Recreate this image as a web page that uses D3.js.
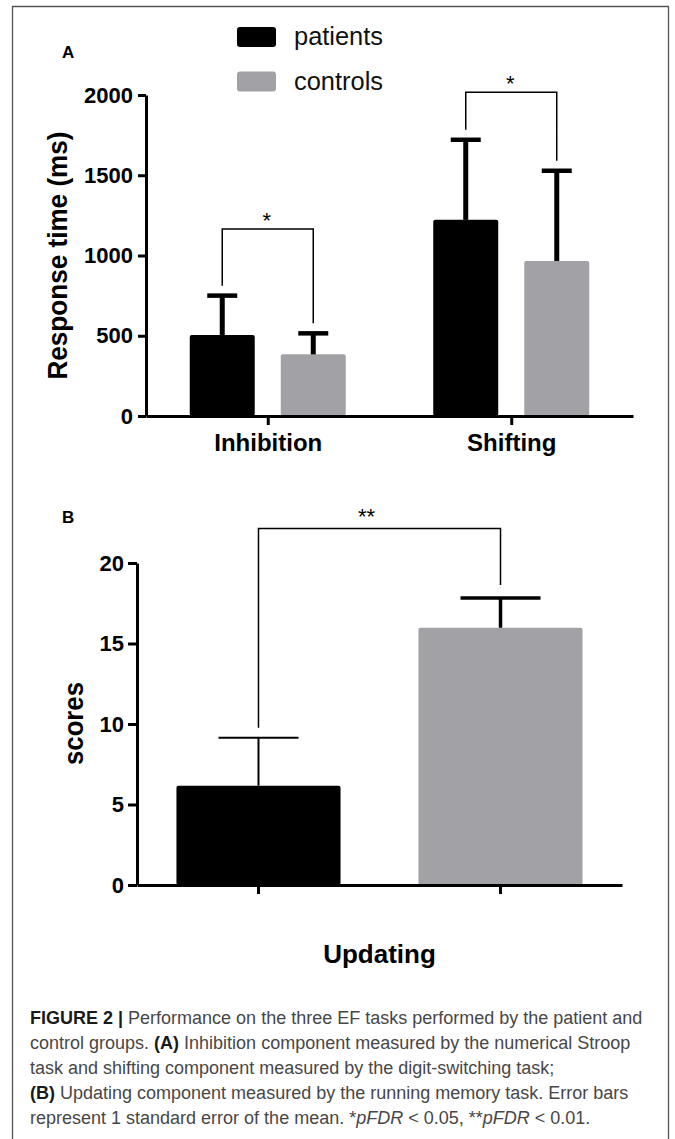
<!DOCTYPE html>
<html>
<head>
<meta charset="utf-8">
<script src="https://cdn.jsdelivr.net/npm/d3@7"></script>
<style>
  body { margin: 0; background: #fff; }
  svg { display: block; font-family: "Liberation Sans", Arial, sans-serif; }
</style>
</head>
<body>
<div id="wrapper"></div>
<script>
// data
const series = ["patients", "controls"]
const tasksA = ["Inhibition", "Shifting"]
const meansA = { patients: [505, 1222], controls: [384, 966] }
const errA = { patients: [245, 499], controls: [131, 562] }
const starsA = ["*", "*"]
const bracketA = [1165, 2017]
const ticksA = [0, 500, 1000, 1500, 2000]

const meansB = [6.17, 15.98]
const errB = [2.98, 1.85]
const starsB = "**"
const bracketB = 22.14
const ticksB = [0, 5, 10, 15, 20]

const colors = { patients: "#000000", controls: "#a2a1a6" }

const caption = [
  [["FIGURE 2 | ", "b"], ["Performance on the three EF tasks performed by the patient and", ""]],
  [["control groups. ", ""], ["(A)", "b"], [" Inhibition component measured by the numerical Stroop", ""]],
  [["task and shifting component measured by the digit-switching task;", ""]],
  [["(B)", "b"], [" Updating component measured by the running memory task. Error bars", ""]],
  [["represent 1 standard error of the mean. *", ""], ["pFDR", "i"], [" < 0.05, **", ""], ["pFDR", "i"], [" < 0.01.", ""]],
]

function drawChart() {
  const width = 675
  const height = 1139

  const svg = d3.select("#wrapper")
    .append("svg")
    .attr("width", width)
    .attr("height", height)

  // frame, open at the bottom
  svg.append("path")
    .attr("d", `M12.5,${height} V6.5 H668.5 V${height}`)
    .attr("fill", "none")
    .attr("stroke", "#555")
    .attr("stroke-width", 1.3)

  // ---------- panel A ----------
  const yA = d3.scaleLinear().domain([0, 2000]).range([416, 95])
  const xA = d3.scalePoint().domain(tasksA).range([146, 633]).padding(0.5)
  const xInner = d3.scaleBand().domain(series).range([-78, 78]).paddingInner(0.286)

  const gA = svg.append("g")

  tasksA.forEach((task, i) => {
    series.forEach(s => {
      const cx = xA(task) + xInner(s) + xInner.bandwidth() / 2
      const v = meansA[s][i]
      const top = v + errA[s][i]
      gA.append("rect")
        .attr("x", xA(task) + xInner(s))
        .attr("y", yA(v))
        .attr("width", xInner.bandwidth())
        .attr("height", yA(0) - yA(v))
        .attr("rx", 2)
        .attr("fill", colors[s])
      gA.append("line")
        .attr("x1", cx).attr("x2", cx)
        .attr("y1", yA(v)).attr("y2", yA(top))
        .attr("stroke", "#000").attr("stroke-width", 5)
      gA.append("line")
        .attr("x1", cx - 15).attr("x2", cx + 15)
        .attr("y1", yA(top)).attr("y2", yA(top))
        .attr("stroke", "#000").attr("stroke-width", 4.5)
    })

    const xl = xA(task) + xInner("patients") + xInner.bandwidth() / 2
    const xr = xA(task) + xInner("controls") + xInner.bandwidth() / 2
    const legL = yA(meansA.patients[i] + errA.patients[i]) - 10
    const legR = yA(meansA.controls[i] + errA.controls[i]) - 10
    gA.append("path")
      .attr("d", `M${xl},${legL} V${yA(bracketA[i])} H${xr} V${legR}`)
      .attr("fill", "none")
      .attr("stroke", "#000")
      .attr("stroke-width", 1.5)
    gA.append("text")
      .attr("x", (xl + xr) / 2 - 1)
      .attr("y", yA(bracketA[i]) - 1.5)
      .attr("text-anchor", "middle")
      .attr("font-size", 22)
      .text(starsA[i])
  })

  const yAxisA = gA.append("g")
    .attr("transform", "translate(146,0)")
    .call(d3.axisLeft(yA).tickValues(ticksA).tickFormat(d3.format("d"))
      .tickSize(8).tickSizeOuter(0).tickPadding(5))
  const xAxisA = gA.append("g")
    .attr("transform", `translate(0,${yA(0)})`)
    .call(d3.axisBottom(xA).tickSize(9).tickSizeOuter(0).tickPadding(9))

  // ---------- panel B ----------
  const yB = d3.scaleLinear().domain([0, 20]).range([885, 563])
  const xB = d3.scaleBand().domain(series).range([137, 622]).paddingInner(0.322).paddingOuter(0.163)

  const gB = svg.append("g")

  series.forEach((s, i) => {
    const cx = xB(s) + xB.bandwidth() / 2
    const top = meansB[i] + errB[i]
    const sw = s === "patients" ? 2 : 3.5
    gB.append("rect")
      .attr("x", xB(s))
      .attr("y", yB(meansB[i]))
      .attr("width", xB.bandwidth())
      .attr("height", yB(0) - yB(meansB[i]))
      .attr("rx", 2)
      .attr("fill", colors[s])
    gB.append("line")
      .attr("x1", cx).attr("x2", cx)
      .attr("y1", yB(meansB[i])).attr("y2", yB(top))
      .attr("stroke", "#000").attr("stroke-width", sw)
    gB.append("line")
      .attr("x1", cx - 40).attr("x2", cx + 40)
      .attr("y1", yB(top)).attr("y2", yB(top))
      .attr("stroke", "#000").attr("stroke-width", sw)
  })

  const bxl = xB("patients") + xB.bandwidth() / 2
  const bxr = xB("controls") + xB.bandwidth() / 2
  gB.append("path")
    .attr("d", `M${bxl},${yB(meansB[0] + errB[0]) - 10} V${yB(bracketB)} H${bxr} V${yB(meansB[1] + errB[1]) - 13}`)
    .attr("fill", "none")
    .attr("stroke", "#000")
    .attr("stroke-width", 1.5)
  gB.append("text")
    .attr("x", (bxl + bxr) / 2 - 13)
    .attr("y", yB(bracketB) - 5)
    .attr("text-anchor", "middle")
    .attr("font-size", 22)
    .text(starsB)

  gB.append("g")
    .attr("transform", "translate(137,0)")
    .call(d3.axisLeft(yB).tickValues(ticksB).tickFormat(d3.format("d"))
      .tickSize(9).tickSizeOuter(0).tickPadding(4))
  gB.append("g")
    .attr("transform", `translate(0,${yB(0)})`)
    .call(d3.axisBottom(xB).tickSize(9).tickSizeOuter(0).tickFormat(""))

  // axis styling shared by both panels
  svg.selectAll(".domain, .tick line")
    .attr("stroke", "#000")
    .attr("stroke-width", 3)
  svg.selectAll(".tick text")
    .attr("fill", "#000")
    .attr("font-family", "Liberation Sans, Arial, sans-serif")
    .attr("font-weight", "bold")
  yAxisA.selectAll(".tick text").attr("font-size", 22)
  gB.selectAll(".tick text").attr("font-size", 22)
  xAxisA.selectAll(".tick text").attr("font-size", 24)

  // axis titles
  svg.append("text")
    .attr("transform", `translate(66.5,${(yA(0) + yA(2000)) / 2}) rotate(-90)`)
    .attr("text-anchor", "middle")
    .attr("font-weight", "bold")
    .attr("font-size", 27)
    .attr("textLength", 248)
    .attr("lengthAdjust", "spacingAndGlyphs")
    .text("Response time (ms)")

  svg.append("text")
    .attr("transform", "translate(82.5,723.5) rotate(-90)")
    .attr("text-anchor", "middle")
    .attr("font-weight", "bold")
    .attr("font-size", 27)
    .attr("textLength", 83)
    .attr("lengthAdjust", "spacingAndGlyphs")
    .text("scores")

  svg.append("text")
    .attr("x", (bxl + bxr) / 2)
    .attr("y", 963)
    .attr("text-anchor", "middle")
    .attr("font-weight", "bold")
    .attr("font-size", 26)
    .text("Updating")

  // panel letters
  svg.append("text").attr("x", 62).attr("y", 57.5)
    .attr("font-weight", "bold").attr("font-size", 17).text("A")
  svg.append("text").attr("x", 62).attr("y", 523)
    .attr("font-weight", "bold").attr("font-size", 17).text("B")

  // legend
  const legend = svg.append("g")
  series.forEach((s, i) => {
    legend.append("rect")
      .attr("x", 237).attr("y", 27 + i * 44.5)
      .attr("width", 39).attr("height", 20)
      .attr("rx", 3)
      .attr("fill", colors[s])
    legend.append("text")
      .attr("x", 294).attr("y", 45 + i * 44.5)
      .attr("font-size", 25)
      .attr("textLength", 89)
      .attr("lengthAdjust", "spacingAndGlyphs")
      .attr("fill", "#111")
      .text(s)
  })

  // caption
  const cap = svg.append("g").attr("font-size", 18)
  caption.forEach((line, i) => {
    const t = cap.append("text")
      .attr("x", 30)
      .attr("y", 1024 + i * 25)
      .attr("fill", "#474747")
    line.forEach(([txt, style]) => {
      t.append("tspan")
        .attr("font-weight", style === "b" ? "bold" : null)
        .attr("font-style", style === "i" ? "italic" : null)
        .attr("fill", style === "b" ? "#1a1a1a" : null)
        .text(txt)
    })
  })
}

drawChart()
</script>
</body>
</html>
